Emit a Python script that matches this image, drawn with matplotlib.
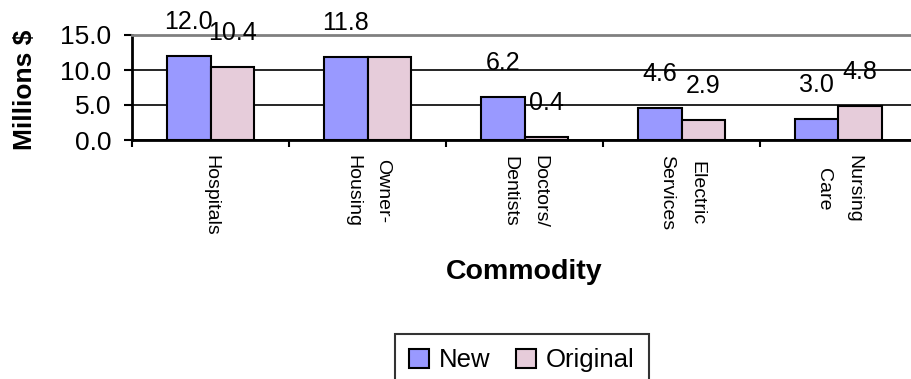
import matplotlib.pyplot as plt
import numpy as np

plt.rcParams['font.family'] = ['Liberation Sans', 'DejaVu Sans']

# commodity groups and values (millions $)
commodities = ["Hospitals", "Owner-\nHousing", "Doctors/\nDentists", "Electric\nServices", "Nursing\nCare"]
new_vals = [12.0, 11.8, 6.2, 4.6, 3.0]
orig_vals = [10.4, 11.8, 0.4, 2.9, 4.8]
# which labels get printed (the second 11.8 sits under the first one)
show_new = [True, True, True, True, True]
show_orig = [True, False, True, True, True]

fig = plt.figure(figsize=(9.11, 3.79), dpi=100)
ax = fig.add_axes([132/911, 1-140/379, 785/911, 105/379])

x = np.arange(len(commodities))
w = 0.277
b1 = ax.bar(x - w/2, new_vals, w, color='#9999FF', edgecolor='black', linewidth=1.5, label='New', zorder=3)
b2 = ax.bar(x + w/2, orig_vals, w, color='#E6CCDA', edgecolor='black', linewidth=1.5, label='Original', zorder=3)

# value labels floating above each bar
for bars, vals, show in [(b1, new_vals, show_new), (b2, orig_vals, show_orig)]:
    for r, v, s in zip(bars, vals, show):
        if s:
            ax.annotate("%.1f" % v, (r.get_x() + r.get_width()/2, v),
                        xytext=(0, 24.5), textcoords='offset points',
                        ha='center', va='center', fontsize=18, zorder=4)

ax.set_xlim(-0.5, 4.5)
ax.set_ylim(0, 15)
ax.set_yticks([0, 5, 10, 15])
ax.set_yticklabels(["0.0", "5.0", "10.0", "15.0"], fontsize=19)
ax.tick_params(axis='y', length=6, width=1.5, pad=9)

# labels at category centers, tick marks at the boundaries
ax.set_xticks(x)
ax.set_xticklabels(commodities, rotation=270, fontsize=14, va='top', ha='center',
                   multialignment='center', linespacing=2.0)
ax.tick_params(axis='x', length=0, pad=11)
ax.set_xticks(np.arange(-0.5, 5.0, 1.0), minor=True)
ax.tick_params(axis='x', which='minor', length=5, width=1.5)

ax.grid(axis='y', color='black', linewidth=1.2, zorder=0)
for s in ['left', 'bottom']:
    ax.spines[s].set_linewidth(2)
ax.spines['top'].set_color('#808080')
ax.spines['top'].set_linewidth(2)
ax.spines['right'].set_visible(False)

fig.text(25/911, 1-90/379, "Millions $", rotation=90, fontsize=19, fontweight='bold',
         ha='center', va='center')
fig.text(524/911, 1-272/379, "Commodity", fontsize=20.5, fontweight='bold',
         ha='center', va='center')

leg = fig.legend(handles=[b1, b2], loc='upper center', bbox_to_anchor=(522/911, 1-334/379),
                 ncol=2, fontsize=18.5, frameon=True, fancybox=False, handlelength=0.75,
                 handleheight=0.75, handletextpad=0.4, columnspacing=1.0, borderpad=0.55,
                 borderaxespad=0)
leg.get_frame().set_edgecolor('black')
leg.get_frame().set_linewidth(1.5)

plt.savefig('out.png', dpi=100)
